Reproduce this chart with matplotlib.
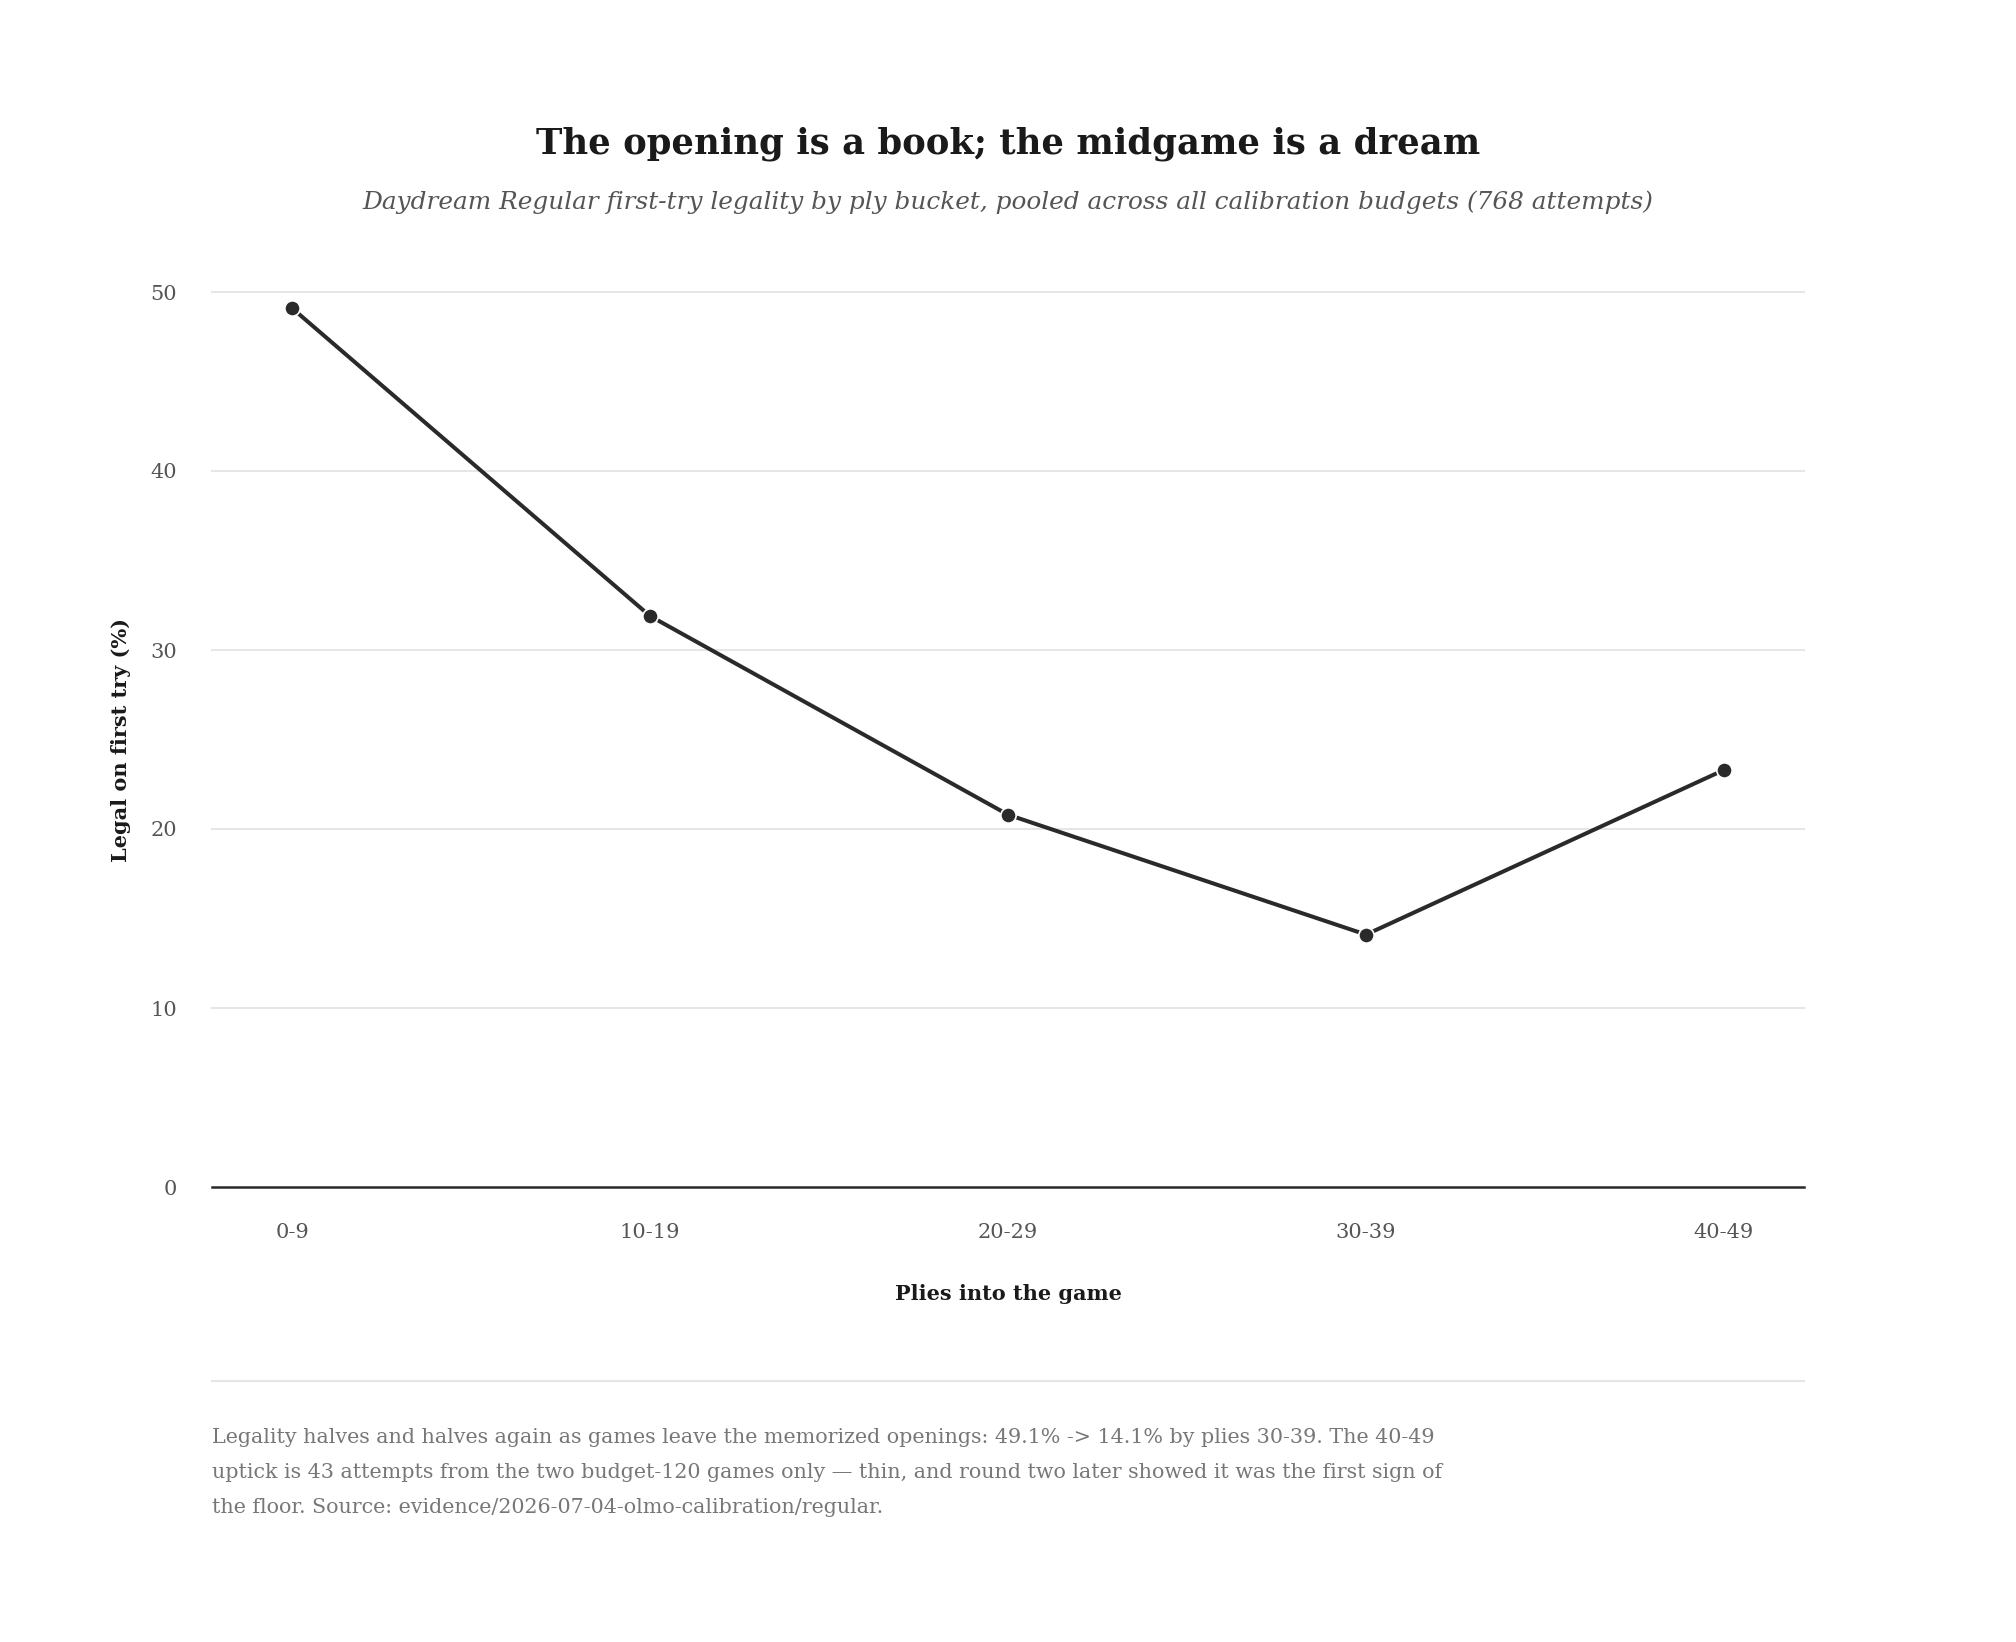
import numpy as np
import matplotlib
matplotlib.use("Agg")
import matplotlib.pyplot as plt

# Data
buckets = ["0-9", "10-19", "20-29", "30-39", "40-49"]
legal_pct = [49.1, 31.9, 20.8, 14.1, 23.3]
y_ticks = [0, 10, 20, 30, 40, 50]

title = "The opening is a book; the midgame is a dream"
subtitle = ("Daydream Regular first-try legality by ply bucket, pooled across "
            "all calibration budgets (768 attempts)")
footnote = ("Legality halves and halves again as games leave the memorized openings: "
            "49.1% -> 14.1% by plies 30-39. The 40-49\n"
            "uptick is 43 attempts from the two budget-120 games only \u2014 thin, "
            "and round two later showed it was the first sign of\n"
            "the floor. Source: evidence/2026-07-04-olmo-calibration/regular.")

plt.rcParams['font.family'] = ['DejaVu Serif']

W, H = 2016, 1642
fig = plt.figure(figsize=(W / 100, H / 100), dpi=100)
fig.patch.set_facecolor("white")

# axes placed in pixel terms of the reference
left, right, top, bottom = 212, 1804, 292, 1187
ax = fig.add_axes([left / W, 1 - bottom / H, (right - left) / W, (bottom - top) / H])

x = np.arange(len(buckets))
ax.plot(x, legal_pct, color="#2a2a2a", lw=2.9, marker="o", ms=11,
        markerfacecolor="#2a2a2a", markeredgecolor="white", markeredgewidth=1.2,
        zorder=3, clip_on=False)

ax.set_xlim(-0.2235, len(buckets) - 1 + 0.2235)
ax.set_ylim(0, 50)
ax.set_yticks(y_ticks)
ax.set_xticks(x)
ax.set_xticklabels(buckets)

for t in y_ticks[1:]:
    ax.axhline(t, color="#e6e6e6", lw=1.4, zorder=1, clip_on=False)
ax.axhline(0, color="#2a2a2a", lw=1.8, zorder=2, clip_on=False)

for s in ax.spines.values():
    s.set_visible(False)
ax.tick_params(axis="both", length=0, labelsize=15, labelcolor="#555555")
ax.tick_params(axis="x", pad=26)
ax.tick_params(axis="y", pad=25)

ax.set_xlabel("Plies into the game", fontsize=15, fontweight="bold",
              color="#1a1a1a", labelpad=30)
ax.set_ylabel("Legal on first try (%)", fontsize=15, fontweight="bold",
              color="#1a1a1a", labelpad=14)

fig.text(0.5, 1 - 144 / H, title, ha="center", va="center", fontsize=25.5,
         fontweight="bold", color="#1a1a1a")
fig.text(0.5, 1 - 202 / H, subtitle, ha="center", va="center", fontsize=17.8,
         style="italic", color="#555555")

# separator above the footnote
fig.add_artist(plt.Line2D([left / W, right / W], [1 - 1381 / H, 1 - 1381 / H],
                          color="#e6e6e6", lw=1.6))

fig.text(left / W, 1 - 1428 / H, footnote, ha="left", va="top", fontsize=14.9,
         color="#777777", linespacing=2.05)

fig.savefig("out.png", dpi=100, facecolor="white")
